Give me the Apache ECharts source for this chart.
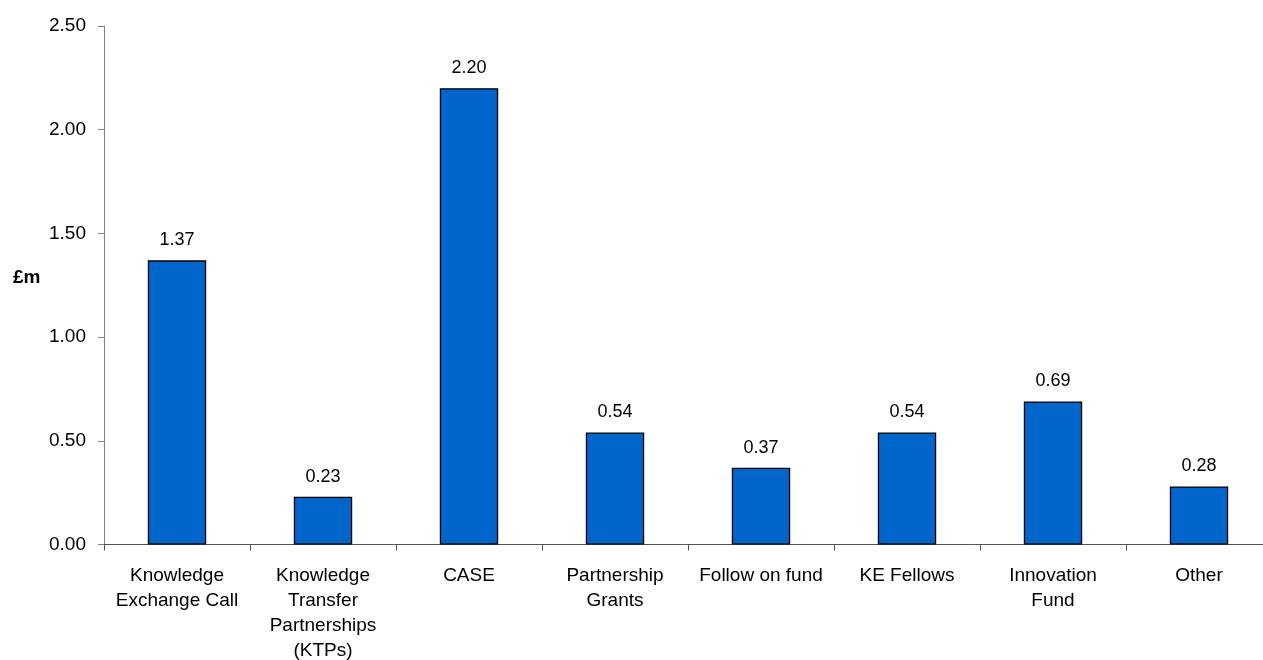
<!DOCTYPE html>
<html>
<head>
<meta charset="utf-8">
<script src="https://cdn.jsdelivr.net/npm/echarts@6/dist/echarts.min.js"></script>
<style>
  html, body { margin: 0; padding: 0; background: #fff; overflow: hidden; }
  #chart { width: 1263px; height: 660px; }
</style>
</head>
<body>
<div id="chart"></div>
<script>
// Funding by scheme, in £ millions
const categories = [
  'Knowledge\nExchange Call',
  'Knowledge\nTransfer\nPartnerships\n(KTPs)',
  'CASE',
  'Partnership\nGrants',
  'Follow on fund',
  'KE Fellows',
  'Innovation\nFund',
  'Other'
];
const values = [1.37, 0.23, 2.20, 0.54, 0.37, 0.54, 0.69, 0.28];
const yTicks = { min: 0, max: 2.5, step: 0.5 };
const unitLabel = '£m';

const FONT = '"Liberation Sans", Arial, sans-serif';

const chart = echarts.init(document.getElementById('chart'), null, { renderer: 'canvas' });

chart.setOption({
  animation: false,
  backgroundColor: '#ffffff',
  textStyle: { fontFamily: FONT, color: '#000' },
  // the plot area deliberately runs a little past the right edge
  grid: {
    left: 104, top: 26, width: 1168, height: 518.5,
    containLabel: false,
    outerBoundsMode: 'none'
  },
  graphic: [{
    type: 'text',
    left: 13,
    top: 268,
    style: { text: unitLabel, font: 'bold 19px ' + FONT, fill: '#000' }
  }],
  xAxis: {
    type: 'category',
    data: categories,
    boundaryGap: true,
    axisLine: { show: true, lineStyle: { color: '#555', width: 1 } },
    axisTick: { show: true, length: 6, lineStyle: { color: '#555' } },
    axisLabel: {
      interval: 0,
      margin: 19,
      color: '#000',
      fontFamily: FONT,
      fontSize: 19,
      lineHeight: 25
    },
    splitLine: { show: false }
  },
  yAxis: {
    type: 'value',
    min: yTicks.min,
    max: yTicks.max,
    interval: yTicks.step,
    axisLine: { show: true, lineStyle: { color: '#808080', width: 1 } },
    axisTick: { show: true, inside: false, length: 6, lineStyle: { color: '#808080' } },
    axisLabel: {
      margin: 18,
      color: '#000',
      fontFamily: FONT,
      fontSize: 19,
      formatter: v => v.toFixed(2)
    },
    splitLine: { show: false }
  },
  series: [{
    type: 'bar',
    data: values,
    barWidth: '40%',
    itemStyle: { color: '#0066CC', borderColor: '#000', borderWidth: 1.3 },
    label: {
      show: true,
      position: 'top',
      distance: 11,
      color: '#000',
      fontFamily: FONT,
      fontSize: 18,
      formatter: p => p.value.toFixed(2)
    }
  }]
});
</script>
</body>
</html>
